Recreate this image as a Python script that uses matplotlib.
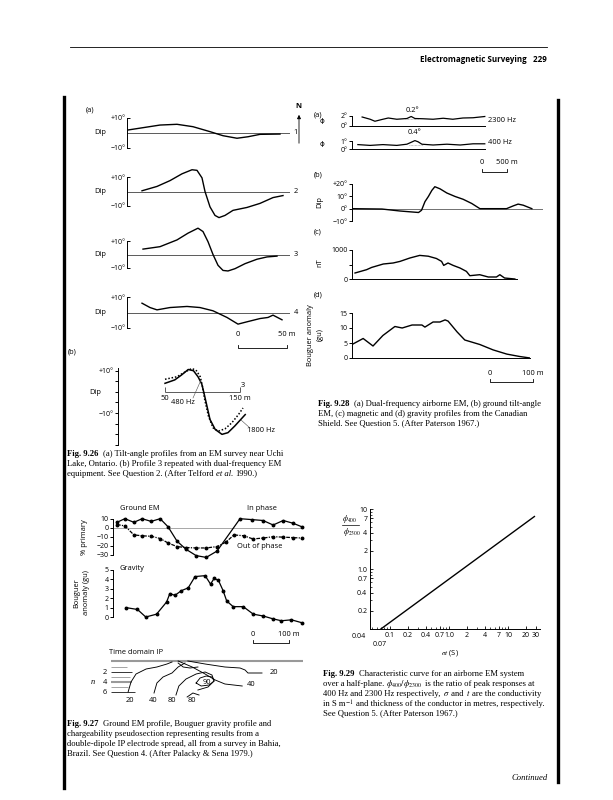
"""
Textbook page: Electromagnetic Surveying, p. 229 (figs 9.26 - 9.29).
"""
import numpy as np
import matplotlib
matplotlib.use("Agg")
import matplotlib.pyplot as plt
from matplotlib.lines import Line2D
from matplotlib.patches import FancyArrowPatch

W, H = 613, 800
SANS = "Open Sans"
SERIF = "Liberation Serif"
plt.rcParams["font.family"] = [SANS, "DejaVu Sans"]
plt.rcParams["mathtext.fontset"] = "stix"

LABEL = 5.4   # text labels inside the figures
TICK = 5.0    # tick labels
CAP = 6.2     # caption text
LEAD = 10.0   # caption line spacing (px)

# ---------------- data ----------------
# Fig 9.26(a) tilt-angle profiles (distance m, dip degrees)
dist_1 = [1, 33, 50, 66, 83, 96, 110, 121, 133, 153]
dip_1 = [2, 5.3, 5.8, 4.2, 0.9, -1.8, -3.5, -2.5, -0.9, -0.7]
dist_2 = [15, 30, 43, 55, 65, 70, 75, 78, 83, 88, 92, 98, 106, 120, 133, 146, 156]
dip_2 = [0.5, 3.5, 7.5, 12.2, 15, 14.6, 9.4, 0, -10.6, -16.5, -18, -16.5, -13, -11, -8.2, -4.2, -2.8]
dist_3 = [16, 33, 50, 61, 71, 76, 81, 86, 91, 96, 101, 108, 118, 130, 140, 150]
dip_3 = [4, 5.8, 10.8, 15.8, 19.5, 17, 9.5, 0, -8, -11.8, -12.2, -10.5, -6.8, -3.5, -1.8, -1.2]
dist_4 = [15, 23, 30, 43, 60, 73, 86, 100, 111, 120, 133, 141, 146, 155]
dip_4 = [6, 3.2, 1.7, 3.2, 3.9, 3.2, 1.1, -3.2, -7.5, -6, -3.9, -3.2, -1.7, -4.7]

# Fig 9.26(b) profile 3 at two frequencies
dist_1800 = [50, 63, 72, 81, 88, 94, 99, 102, 106, 110, 117, 126, 134, 143, 157]
dip_1800 = [4.0, 5.6, 7.9, 10.5, 9.9, 7.1, 3.7, -0.6, -6.8, -13, -17.7, -20, -19.2, -16.1, -10.7]
dist_480 = [50, 66, 77, 86, 92, 97, 100, 103, 108, 114, 121, 130, 139, 148, 154]
dip_480 = [5.9, 7.1, 9.4, 11, 9.9, 7.1, 2.5, -3.7, -11.5, -16.9, -18.5, -17.4, -14.6, -10.7, -7.6]

# Fig 9.28(a) airborne EM phase (distance m, degrees)
air_dist_2300 = [190, 340, 430, 560, 680, 840, 1030, 1110, 1180, 1330, 1520, 1710, 1890, 2080, 2270, 2490]
phi_2300 = [1.8, 1.35, 0.95, 1.3, 1.6, 1.35, 1.5, 1.9, 1.5, 1.45, 1.35, 1.55, 1.35, 1.6, 1.65, 1.9]
air_dist_400 = [110, 340, 580, 840, 1030, 1130, 1180, 1240, 1310, 1520, 1780, 2030, 2270, 2490]
phi_400 = [0.55, 0.45, 0.55, 0.45, 0.6, 0.9, 1.05, 0.9, 0.6, 0.5, 0.6, 0.5, 0.65, 0.65]

# Fig 9.28(b) ground tilt angle
tilt_dist = [0, 70, 112, 155, 162, 170, 178, 186, 193, 205, 221, 240, 259, 279, 298, 360, 376, 387, 399, 419]
tilt_dip = [0, -0.3, -1.9, -3.1, -1.3, 5.7, 9.9, 14.8, 17.8, 16.1, 12.7, 9.9, 7.6, 4.2, 0, 0, 2.3, 3.7, 2.8, 0]

# Fig 9.28(c) magnetic
mag_dist = [7, 34, 46, 73, 96, 112, 135, 158, 178, 197, 209, 214, 224, 236, 252, 267, 275, 298, 318, 337, 345, 356, 380]
mag_nT = [207, 321, 400, 517, 552, 607, 724, 814, 786, 707, 607, 469, 552, 469, 379, 262, 114, 148, 69, 69, 148, 34, 0]

# Fig 9.28(d) gravity
grav28_dist = [0, 26, 49, 72, 100, 117, 140, 163, 170, 189, 205, 217, 224, 245, 263, 298, 329, 361, 391, 415]
grav28_gu = [4.5, 6.5, 4, 7.5, 10.5, 10, 11, 11, 10.3, 12, 12, 12.7, 12.3, 8.7, 6, 4.5, 2.7, 1.3, 0.5, 0]

# Fig 9.27 ground EM (% primary) and gravity (gu)
em_dist_ip = [11, 33, 58, 81, 106, 131, 153, 178, 203, 231, 259, 289, 353, 386, 417, 445, 473, 500, 525]
em_inphase = [6, 10, 6, 10, 7, 10, 1, -15, -24, -31, -33, -26, 10, 9, 8, 3, 8, 5, 1]
em_dist_op = [11, 33, 58, 81, 106, 131, 153, 178, 203, 231, 259, 289, 314, 336, 364, 389, 417, 445, 473, 500, 525]
em_outphase = [3.5, 2, -8, -9, -9.5, -12, -17, -21, -22, -22.5, -22.5, -21, -16, -8, -9, -12.5, -11.5, -10, -10.5, -11, -11.5]
grav27_dist = [36, 68, 91, 121, 149, 158, 172, 190, 209, 228, 256, 271, 281, 293, 306, 316, 334, 362, 390, 418, 445, 468, 496, 524]
grav27_gu = [1.0, 0.8, 0.0, 0.3, 1.6, 2.5, 2.3, 2.8, 3.1, 4.3, 4.4, 3.5, 4.1, 3.9, 2.8, 1.7, 1.1, 1.1, 0.3, 0.1, -0.2, -0.4, -0.3, -0.6]

# Fig 9.27 IP pseudosection contours (distance m, n level)
ip_levels = [1, 2, 3, 4, 5, 6]
ip_level_end = [38, 52, 46, 52, 43, 61]
ip_contours = {
    "20L": ([42, 50, 64, 92, 122, 150, 164], [6, 4, 2.4, 1.4, 1, 0.4, 0]),
    "40L": ([114, 122, 139, 164, 181, 200], [6.2, 4.2, 3, 2.2, 1, 0.2]),
    "top": ([181, 195, 214, 236], [0.2, 1, 1.2, 1]),
    "80": ([175, 183, 203, 231, 256, 275, 281, 264, 236], [6.6, 4.8, 3.4, 2.4, 2, 2.6, 3.8, 5, 5.6]),
    "90": ([231, 242, 259, 275, 281, 267, 245, 231], [4.2, 3.2, 2.8, 3, 3.8, 4.6, 4.8, 4.2]),
    "arc": ([206, 222, 239], [7, 6.2, 6.6]),
    "40R": ([181, 220, 256, 284, 311, 359], [-0.2, 1, 2.4, 3.6, 4.4, 4.8]),
    "20R": ([208, 256, 311, 353, 367, 375, 414], [-0.2, 0.4, 1, 1.2, 1.6, 2.2, 2.2]),
}

# Fig 9.29 characteristic curve
sigma_t = [0.07, 28]
phi_ratio = [0.1, 7.5]
x29_ticks = [0.1, 0.2, 0.4, 0.7, 1.0, 2, 4, 7, 10, 20, 30]
x29_labels = ["0.1", "0.2", "0.4", "0.7", "1.0", "2", "4", "7", "10", "20", "30"]
y29_ticks = [0.2, 0.4, 0.7, 1.0, 2, 4, 7, 10]
y29_labels = ["0.2", "0.4", "0.7", "1.0", "2", "4", "7", "10"]

# ---------------- helpers ----------------
fig = plt.figure(figsize=(W / 100, H / 100), dpi=100)
renderer = fig.canvas.get_renderer()


def box(x0, y0, x1, y1):
    """Axes placed by page pixel coordinates (top-left origin)."""
    ax = fig.add_axes([x0 / W, 1 - y1 / H, (x1 - x0) / W, (y1 - y0) / H])
    ax.patch.set_alpha(0)
    for s in ax.spines.values():
        s.set_visible(False)
    ax.set_xticks([])
    ax.set_yticks([])
    return ax


def label(x, y, s, size=LABEL, ha="center", va="center", **kw):
    return fig.text(x / W, 1 - y / H, s, fontsize=size, ha=ha, va=va, **kw)


def rule(xs, ys, lw=0.6, color="k", **kw):
    fig.add_artist(Line2D([x / W for x in xs], [1 - y / H for y in ys],
                          lw=lw, color=color, **kw))


def left_axis(ax, ticks, labels, direction="out", length=2.0):
    ax.spines["left"].set_visible(True)
    ax.spines["left"].set_linewidth(0.7)
    ax.set_yticks(ticks)
    ax.set_yticklabels(labels)
    ax.tick_params(axis="y", direction=direction, length=length, width=0.7,
                   labelsize=TICK, pad=1.2)


def base_line(ax):
    ax.spines["bottom"].set_visible(True)
    ax.spines["bottom"].set_linewidth(0.7)


def scale_bar(x0, x1, y, text0, text1, ty):
    rule([x0, x0, x1, x1], [y - 3, y, y, y - 3], lw=0.6)
    label(x0, ty, text0)
    label(x1, ty, text1)


def rich_line(x, y, parts, size=CAP):
    for text, kw in parts:
        stripped = text.rstrip(" ")
        t = fig.text(x / W, 1 - y / H, stripped, fontsize=size, ha="left",
                     va="baseline", family=kw.pop("family", SERIF), **kw)
        x += t.get_window_extent(renderer).width
        x += (len(text) - len(stripped)) * size * 1.389 * 0.25


def caption(x, y, lines):
    for i, parts in enumerate(lines):
        rich_line(x, y + i * LEAD, parts)


# ---------------- page furniture ----------------
rule([70, 547], [47, 47], lw=0.6)
label(547, 59, "Electromagnetic Surveying   229", size=5.8, ha="right", weight="bold")
rule([64, 64], [97, 788], lw=2.4)
rule([558, 558], [100, 782], lw=2.4)
label(548, 778, "Continued", size=CAP, ha="right", family=SERIF, style="italic")

# ---------------- Fig 9.26 (a) ----------------
label(90, 110, "(a)")
profiles = [(dist_1, dip_1, 118, 148, "1"), (dist_2, dip_2, 177, 206, "2"),
            (dist_3, dip_3, 241, 268, "3"), (dist_4, dip_4, 297, 328, "4")]
for dist, dip, top, bot, name in profiles:
    ax = box(127, top, 290, bot)
    ax.set_xlim(0, 163)
    ax.set_ylim(-10, 10)
    left_axis(ax, [-10, 10], ["\u221210\u00b0", "+10\u00b0"], direction="in")
    ax.axhline(0, color="0.25", lw=0.6)
    ax.plot(dist, dip, color="k", lw=1.0, clip_on=False)
    mid = (top + bot) / 2
    label(100, mid, "Dip")
    label(296, mid, name)

# north arrow
label(298, 107, "N", weight="bold")
fig.add_artist(FancyArrowPatch(
    (299 / W, 1 - 146 / H), (299 / W, 1 - 112 / H), transform=fig.transFigure,
    arrowstyle="-|>,head_length=2.2,head_width=1.1", lw=0.6, color="k"))

scale_bar(238, 287, 348, "0", "50 m", 335)

# ---------------- Fig 9.26 (b) ----------------
label(72, 352, "(b)")
axb = box(118, 368, 245, 445)
axb.set_xlim(-12.7, 156.7)
axb.set_ylim(-25, 11.2)
left_axis(axb, [10, 5, 0, -5, -10, -15, -20, -25],
          ["+10\u00b0", "", "", "", "\u221210\u00b0", "", "", ""])
axb.hlines(0, 50, 150, color="0.25", lw=0.6)
axb.vlines([50, 150], 0, 2.5, color="0.25", lw=0.6)
axb.plot(dist_1800, dip_1800, color="k", lw=1.1, clip_on=False)
axb.plot(dist_480, dip_480, color="k", lw=1.1, ls=(0, (1, 1.2)), clip_on=False)
label(95, 392, "Dip")
label(165, 399, "50")
label(240, 399, "150 m")
label(243, 386, "3")
label(183, 403, "480 Hz")
rule([193, 201], [398, 380], lw=0.4, color="0.3")
label(261, 430, "1800 Hz")
rule([250, 241], [428, 420], lw=0.4, color="0.3")

caption(67, 455.5, [
    [("Fig. 9.26  ", {"weight": "bold"}),
     ("(a) Tilt-angle profiles from an EM survey near Uchi", {})],
    [("Lake, Ontario. (b) Profile 3 repeated with dual-frequency EM", {})],
    [("equipment. See Question 2. (After Telford ", {}),
     ("et al. ", {"style": "italic"}), ("1990.)", {})],
])

# ---------------- Fig 9.28 (a) ----------------
label(318, 115, "(a)")
ax23 = box(352, 116, 485, 126)
ax23.set_xlim(0, 2494)
ax23.set_ylim(0, 2)
left_axis(ax23, [0, 2], ["0\u00b0", "2\u00b0"])
base_line(ax23)
ax23.plot(air_dist_2300, phi_2300, color="k", lw=0.9, clip_on=False)
ax23.hlines(1.4, 1000, 1240, color="0.55", lw=0.5, ls=(0, (1, 1)))
label(322, 121, "\u03d5", family="DejaVu Sans", size=5.2)
label(412, 110, "0.2\u00b0")
label(488, 120, "2300 Hz", ha="left")

ax04 = box(352, 141, 485, 149)
ax04.set_xlim(0, 2494)
ax04.set_ylim(0, 1)
left_axis(ax04, [0, 1], ["0\u00b0", "1\u00b0"])
base_line(ax04)
ax04.plot(air_dist_400, phi_400, color="k", lw=0.9, clip_on=False)
ax04.hlines(0.5, 1060, 1330, color="0.55", lw=0.5, ls=(0, (1, 1)))
label(322, 144, "\u03d5", family="DejaVu Sans", size=5.2)
label(415, 133, "0.4\u00b0")
label(488, 143, "400 Hz", ha="left")

scale_bar(482, 507, 172, "0", "500 m", 162)

# ---------------- Fig 9.28 (b) ----------------
label(318, 175, "(b)")
ax28b = box(352, 184, 543, 221)
ax28b.set_xlim(0, 445)
ax28b.set_ylim(-10, 20)
left_axis(ax28b, [-10, 0, 10, 20], ["\u221210\u00b0", "0\u00b0", "10\u00b0", "+20\u00b0"])
ax28b.axhline(0, color="0.35", lw=0.6)
ax28b.plot(tilt_dist, tilt_dip, color="k", lw=1.0)
label(320, 202, "Dip", rotation=90)

# ---------------- Fig 9.28 (c) ----------------
label(318, 232, "(c)")
ax28c = box(352, 250, 517, 279)
ax28c.set_xlim(0, 385)
ax28c.set_ylim(0, 1000)
left_axis(ax28c, [0, 500, 1000], ["0", "", "1000"])
base_line(ax28c)
ax28c.plot(mag_dist, mag_nT, color="k", lw=1.0)
label(320, 263, "nT", rotation=90)

# ---------------- Fig 9.28 (d) ----------------
label(318, 295, "(d)")
ax28d = box(352, 313, 530, 358)
ax28d.set_xlim(0, 415)
ax28d.set_ylim(0, 15)
left_axis(ax28d, [0, 5, 10, 15], ["0", "5", "10", "15"])
base_line(ax28d)
ax28d.plot(grav28_dist, grav28_gu, color="k", lw=1.0)
label(310, 335, "Bouguer anomaly", rotation=90)
label(320, 335, "(gu)", rotation=90)

scale_bar(490, 533, 382, "0", "100 m", 373)

caption(318, 405.5, [
    [("Fig. 9.28  ", {"weight": "bold"}),
     ("(a) Dual-frequency airborne EM, (b) ground tilt-angle", {})],
    [("EM, (c) magnetic and (d) gravity profiles from the Canadian", {})],
    [("Shield. See Question 5. (After Paterson 1967.)", {})],
])

# ---------------- Fig 9.27 ground EM ----------------
label(120, 508, "Ground EM", ha="left")
label(247, 508, "In phase", ha="left")
axem = box(113, 518.7, 303, 554.7)
axem.set_xlim(0, 528)
axem.set_ylim(-30, 10)
left_axis(axem, [10, 0, -10, -20, -30], ["10", "0", "\u221210", "\u221220", "\u221230"])
axem.axhline(0, color="0.6", lw=0.6)
axem.plot(em_dist_ip, em_inphase, color="k", lw=0.9, marker="o", ms=1.8, clip_on=False)
axem.plot(em_dist_op, em_outphase, color="k", lw=0.9, ls=(0, (3, 1, 1, 1)),
          marker="o", ms=1.8, clip_on=False)
label(237, 546, "Out of phase", ha="left")
label(84, 537, "% primary", rotation=90)

label(120, 568, "Gravity", ha="left")
axg = box(113, 570, 303, 617)
axg.set_xlim(0, 528)
axg.set_ylim(0, 5)
left_axis(axg, [0, 1, 2, 3, 4, 5], ["0", "1", "2", "3", "4", "5"])
axg.axhline(0, color="0.6", lw=0.6)
axg.plot(grav27_dist, grav27_gu, color="k", lw=0.9, marker="o", ms=1.8, clip_on=False)
label(77, 593, "Bouguer", rotation=90)
label(87, 593, "anomaly (gu)", rotation=90)

scale_bar(253, 289, 643, "0", "100 m", 635)

# ---------------- Fig 9.27 IP pseudosection ----------------
label(109, 653, "Time domain IP", ha="left")
axip = box(113, 655, 303, 705)
axip.set_xlim(0, 528)
axip.set_ylim(8.6, -1.4)
axip.hlines(-0.2, -6, 528, color="0.6", lw=1.5, clip_on=False)
for lev, end in zip(ip_levels, ip_level_end):
    if lev == 4:
        axip.hlines(lev, -6, end, color="0.6", lw=1.5, clip_on=False)
    elif lev % 2 == 0:
        axip.hlines(lev, -6, end, color="k", lw=0.55, clip_on=False)
    else:
        axip.hlines(lev, -6, end, color="0.55", lw=0.55, clip_on=False)
for key, (cx, cy) in ip_contours.items():
    axip.plot(cx, cy, color="k", lw=0.65, clip_on=False)
label(93, 682, "n", style="italic", family=SERIF, size=6)
for lev in [2, 4, 6]:
    label(105, 662 + 5 * lev, str(lev))
for tx, ty, s in [(130, 701, "20"), (153, 701, "40"), (172, 701, "80"), (192, 701, "80"),
                  (207, 683, "90"), (251, 685, "40"), (274, 672, "20")]:
    label(tx, ty, s)

caption(67, 725.5, [
    [("Fig. 9.27  ", {"weight": "bold"}),
     ("Ground EM profile, Bouguer gravity profile and", {})],
    [("chargeability pseudosection representing results from a", {})],
    [("double-dipole IP electrode spread, all from a survey in Bahia,", {})],
    [("Brazil. See Question 4. (After Palacky & Sena 1979.)", {})],
])

# ---------------- Fig 9.29 ----------------
ax29 = box(370, 509, 540, 629)
ax29.set_xscale("log")
ax29.set_yscale("log")
ax29.set_xlim(0.0458, 34.8)
ax29.set_ylim(0.1, 10)
for side in ["left", "bottom"]:
    ax29.spines[side].set_visible(True)
    ax29.spines[side].set_linewidth(0.7)
ax29.set_xticks(x29_ticks)
ax29.set_xticklabels(x29_labels)
ax29.set_yticks(y29_ticks)
ax29.set_yticklabels(y29_labels)
ax29.tick_params(which="major", direction="in", length=2.5, width=0.6, labelsize=TICK, pad=2)
ax29.tick_params(which="minor", direction="in", length=1.5, width=0.5)
ax29.plot(sigma_t, phi_ratio, color="k", lw=1.0, clip_on=False)
label(359, 637, "0.04", size=TICK)
label(380, 644, "0.07", size=TICK)
label(450, 653, r"$\sigma t$ (S)")
label(350, 519, r"$\phi_{400}$", size=5.8)
rule([342, 359], [525, 525], lw=0.5)
label(352, 532, r"$\phi_{2300}$", size=5.8)

caption(323, 675.5, [
    [("Fig. 9.29  ", {"weight": "bold"}),
     ("Characteristic curve for an airborne EM system", {})],
    [("over a half-plane. ", {}), (r"$\phi_{400}/\phi_{2300}$ ", {}),
     ("is the ratio of peak responses at", {})],
    [("400 Hz and 2300 Hz respectively, ", {}), (r"$\sigma$", {}),
     (" and ", {}), (r"$t$ ", {}), ("are the conductivity", {})],
    [("in S m", {}), (r"$^{-1}$ ", {}),
     ("and thickness of the conductor in metres, respectively.", {})],
    [("See Question 5. (After Paterson 1967.)", {})],
])

fig.savefig("out.png", dpi=100)
